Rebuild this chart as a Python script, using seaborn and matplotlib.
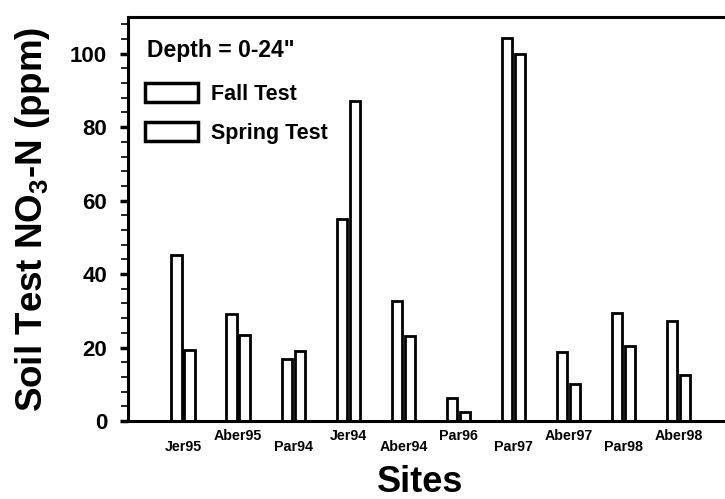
import numpy as np
import pandas as pd
import seaborn as sns
import matplotlib.pyplot as plt
from matplotlib.ticker import MultipleLocator

# data
sites = ['Jer95', 'Aber95', 'Par94', 'Jer94', 'Aber94', 'Par96',
         'Par97', 'Aber97', 'Par98', 'Aber98']
fall = [45.3, 29.0, 17.0, 55.1, 32.6, 6.3, 104.4, 18.7, 29.5, 27.3]
spring = [19.2, 23.3, 19.0, 87.0, 23.2, 2.4, 100.0, 10.0, 20.3, 12.6]
tests = ['Fall Test', 'Spring Test']

df = pd.DataFrame({
    'Site': sites * 2,
    'Test': [tests[0]] * len(sites) + [tests[1]] * len(sites),
    'NO3': fall + spring,
})

sns.set_theme(style='white')
plt.rcParams['font.family'] = ['Liberation Sans', 'DejaVu Sans']
plt.rcParams['font.weight'] = 'bold'
plt.rcParams['text.color'] = 'black'
plt.rcParams['axes.labelcolor'] = 'black'
plt.rcParams['xtick.color'] = 'black'
plt.rcParams['ytick.color'] = 'black'
plt.rcParams['mathtext.fontset'] = 'custom'
plt.rcParams['mathtext.rm'] = 'Liberation Sans:bold'
plt.rcParams['mathtext.bf'] = 'Liberation Sans:bold'
plt.rcParams['mathtext.default'] = 'rm'

fig = plt.figure(figsize=(7.25, 4.99), dpi=100)
ax = fig.add_axes([128 / 725, 1 - 421 / 499, 1 - 128 / 725, (421 - 17) / 499])

sns.barplot(data=df, x='Site', y='NO3', hue='Test', order=sites,
            hue_order=tests, palette=['white', 'white'], edgecolor='black',
            linewidth=2, width=0.47, gap=0.2, ax=ax)

ax.set_xlim(-1, 9.84)
ax.set_ylim(0, 110)
ax.yaxis.set_major_locator(MultipleLocator(20))
ax.yaxis.set_minor_locator(MultipleLocator(4))
ax.tick_params(axis='y', which='major', direction='out', length=6, width=2.5,
               labelsize=16, pad=9, left=True, colors='black')
ax.tick_params(axis='y', which='minor', direction='out', length=5, width=1.2,
               left=True, colors='black')
ax.tick_params(axis='x', length=0, labelsize=10.3, colors='black')
for lab in ax.get_yticklabels():
    lab.set_fontweight('bold')

# staggered site labels
for i, tk in enumerate(ax.xaxis.get_major_ticks()):
    tk.set_pad(14 if i % 2 == 0 else 5.5)
    tk.label1.set_fontweight('bold')

for s in ['left', 'bottom', 'top']:
    ax.spines[s].set_linewidth(2.2)
    ax.spines[s].set_color('black')
ax.spines['right'].set_visible(False)

ax.set_ylabel(r'Soil Test NO$_3$-N (ppm)', fontsize=26.5, fontweight='bold',
              labelpad=13, color='black')
ax.set_xlabel('')
fig.text(420 / 725, 1 - 483 / 499, 'Sites', fontsize=26, fontweight='bold',
         ha='center', va='center', color='black')

handles, labels = ax.get_legend_handles_labels()
ax.legend(handles, labels, loc='upper left', frameon=False,
          bbox_to_anchor=(145 / 725, 1 - 83 / 499),
          bbox_transform=fig.transFigure, borderpad=0, borderaxespad=0,
          prop={'size': 15.5, 'weight': 'bold'}, handlelength=2.45,
          handleheight=1.0, handletextpad=0.6, labelspacing=0.8)
for h in ax.get_legend().legend_handles:
    h.set_linewidth(2.5)

fig.text(147 / 725, 1 - 51 / 499, 'Depth = 0-24"', fontsize=16.5,
         fontweight='bold', ha='left', va='center', color='black')

fig.savefig('out.png', dpi=100)
